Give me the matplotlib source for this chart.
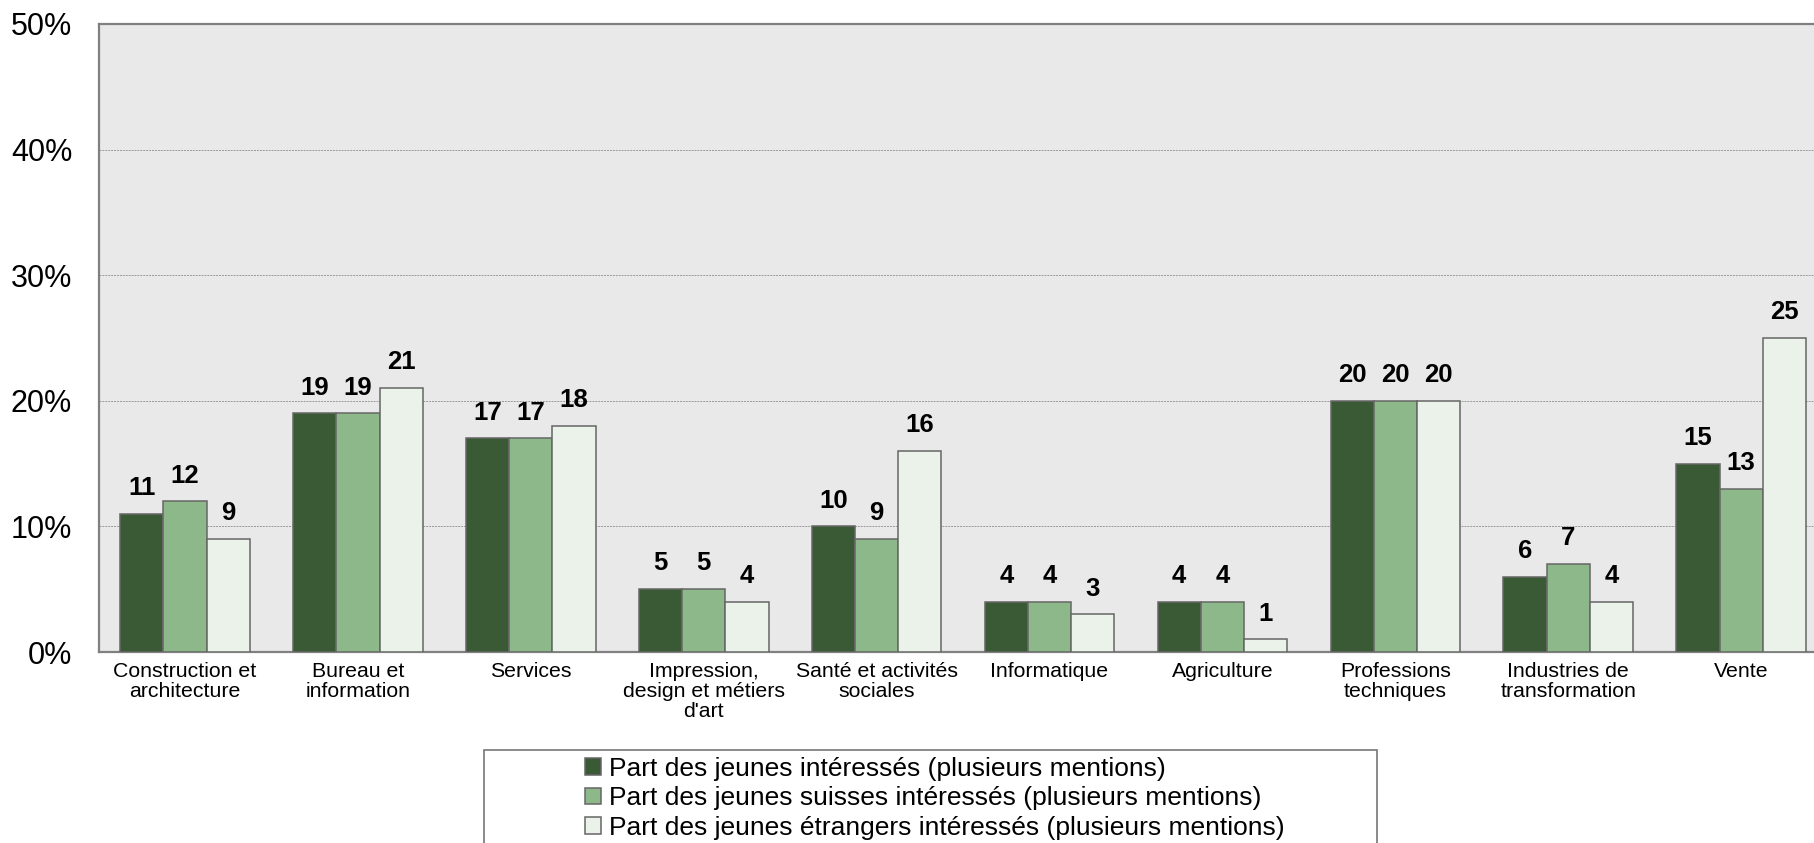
import numpy as np
import matplotlib
matplotlib.use("Agg")
import matplotlib.pyplot as plt
from matplotlib.patches import Rectangle

plt.rcParams['font.family'] = ['Liberation Sans', 'DejaVu Sans']

# data
categories = ["Construction et\narchitecture", "Bureau et\ninformation", "Services",
              "Impression,\ndesign et métiers\nd'art", "Santé et activités\nsociales",
              "Informatique", "Agriculture", "Professions\ntechniques",
              "Industries de\ntransformation", "Vente"]
share_all = [11, 19, 17, 5, 10, 4, 4, 20, 6, 15]
share_swiss = [12, 19, 17, 5, 9, 4, 4, 20, 7, 13]
share_foreign = [9, 21, 18, 4, 16, 3, 1, 20, 4, 25]

series_labels = ["Part des jeunes intéressés (plusieurs mentions)",
                 "Part des jeunes suisses intéressés (plusieurs mentions)",
                 "Part des jeunes étrangers intéressés (plusieurs mentions)"]
colors = ["#3a5a35", "#8db88a", "#eaf2ea"]
y_ticks = [0, 10, 20, 30, 40, 50]

W, H = 1814, 843
fig = plt.figure(figsize=(W / 100, H / 100), dpi=100)
ax = fig.add_axes([98.6 / W, 1 - 652 / H, 1729 / W, (652 - 24) / H])
ax.set_facecolor("#e9e9e9")

x = np.arange(len(categories))
width = 0.25
bars = []
for i, (vals, col) in enumerate(zip([share_all, share_swiss, share_foreign], colors)):
    b = ax.bar(x + (i - 1) * width, vals, width, color=col, edgecolor="#666666",
               linewidth=1.1, label=series_labels[i], zorder=3)
    bars.append(b)
    for rect, v in zip(b, vals):
        ax.annotate(str(v), (rect.get_x() + rect.get_width() / 2, v),
                    xytext=(0, 13.5), textcoords="offset points",
                    ha="center", va="baseline", fontsize=18.5, fontweight="bold",
                    zorder=4)

ax.set_xlim(-0.5, len(categories) - 0.5)
ax.set_ylim(0, 50)
ax.set_yticks(y_ticks)
ax.set_yticklabels([f"{t}%" for t in y_ticks], fontsize=22)
ax.set_xticks(x)
ax.set_xticklabels(categories, fontsize=15.3, linespacing=1.08)
ax.tick_params(axis="both", length=0)
ax.tick_params(axis="y", pad=19)
ax.tick_params(axis="x", pad=7)

ax.grid(axis="y", color="#9a9a9a", linestyle=(0, (2, 1)), linewidth=0.7, zorder=0)
for s in ax.spines.values():
    s.set_color("#808080")
    s.set_linewidth(1.6)

# legend box (extends below the figure edge like the original)
box = Rectangle((484 / W, -0.2), (1377 - 484) / W, 0.2 + (843 - 750) / H,
                transform=fig.transFigure, facecolor="white", edgecolor="#777777",
                linewidth=1.2, zorder=0)
fig.patches.append(box)

leg = fig.legend(handles=bars, labels=series_labels, loc="upper left",
                 bbox_to_anchor=(585 / W, 1 - 757 / H), frameon=False,
                 fontsize=19, handlelength=0.6, handleheight=0.6,
                 handletextpad=0.3, labelspacing=0.2, borderpad=0,
                 borderaxespad=0)

fig.savefig("out.png", dpi=100)
